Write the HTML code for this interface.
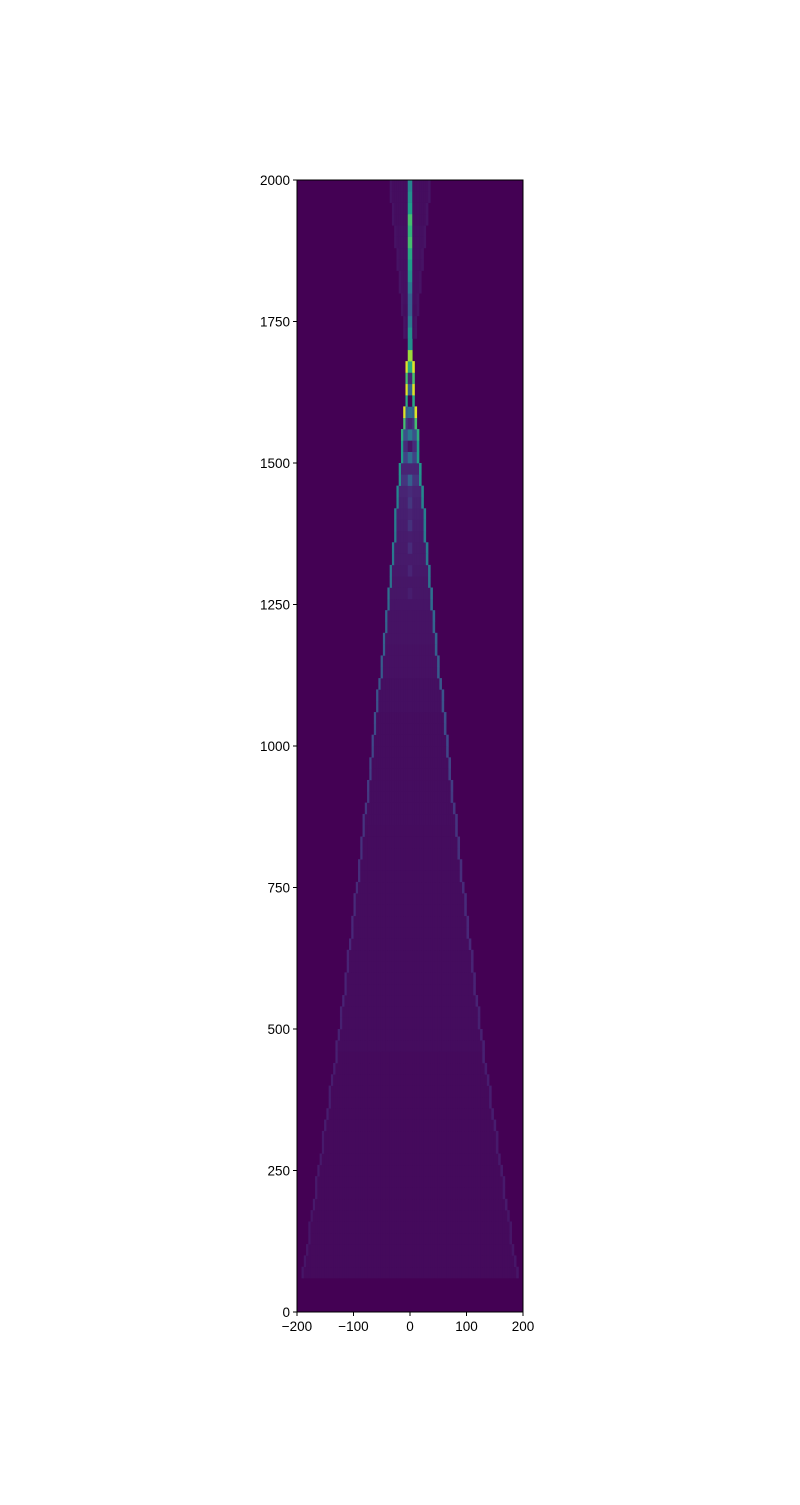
<!DOCTYPE html>
<html><head><meta charset="utf-8"><style>
body{margin:0;background:#fff;}
svg text{font-family:"Liberation Sans","DejaVu Sans",sans-serif;font-size:13.5px;fill:#000;}
</style></head><body>
<svg id="chart" width="800" height="1500" xmlns="http://www.w3.org/2000/svg">
<rect x="0" y="0" width="800" height="1500" fill="#fff"/>
<g id="cells"></g>
<g id="axes"></g>
</svg>
<script>
// rows start at y = 60 + 20*i
const rowStart = 60, rowStep = 20, colStep = 4;
const halfWidth = [190,187,184,181,178,175,172,169,166,163,
160,157,154,151,148,145,142,139,136,133,
130,127,124,122,119,117,114,112,110,107,
105,102,100,98,95,93,91,89,86,84,
82,80,77,75,73,71,68,66,64,62,
60,58,55,53,51,49,47,44,42,40,
38,37,35,33,31,29,28,26,24,22,
20,19,17,15,14,12,10,9,8,7,
6,5,4,10,12,14,16,18,20,22,
24,26,28,30,32,34,36];
const edgeVal = [0.06,0.06,0.06,0.06,0.06,0.06,0.07,0.07,0.07,0.07,
0.07,0.07,0.07,0.08,0.08,0.08,0.08,0.08,0.08,0.09,
0.09,0.09,0.09,0.09,0.1,0.1,0.1,0.1,0.1,0.11,
0.11,0.11,0.12,0.12,0.12,0.13,0.13,0.14,0.14,0.15,
0.15,0.16,0.17,0.18,0.19,0.2,0.21,0.22,0.23,0.24,
0.25,0.26,0.27,0.28,0.29,0.3,0.31,0.32,0.33,0.35,
0.37,0.38,0.39,0.4,0.41,0.42,0.43,0.44,0.45,0.47,
0.5,0.52,0.55,0.55,0.62,0.7,0.95,0.6,0.95,0.7,
0.95,1.0,0.85,0.05,0.05,0.05,0.05,0.05,0.05,0.05,
0.05,0.05,0.05,0.05,0.05,0.05,0.05];
const innerVal = [0.025,0.025,0.025,0.025,0.025,0.025,0.025,0.025,0.025,0.025,
0.025,0.025,0.025,0.025,0.025,0.025,0.025,0.025,0.025,0.025,
0.03,0.03,0.03,0.03,0.03,0.03,0.03,0.03,0.03,0.03,
0.03,0.03,0.03,0.03,0.03,0.03,0.03,0.03,0.03,0.03,
0.035,0.035,0.035,0.035,0.035,0.035,0.035,0.035,0.035,0.035,
0.04,0.04,0.04,0.045,0.045,0.045,0.05,0.05,0.05,0.055,
0.06,0.06,0.065,0.07,0.07,0.075,0.08,0.085,0.09,0.1,
0.15,0.1,0.2,0.12,0.25,0.15,0.3,0.2,0.35,0.25,
0.4,0.45,0.4,0.035,0.035,0.035,0.04,0.04,0.04,0.04,
0.04,0.04,0.04,0.035,0.035,0.035,0.035];
const centerVal = [0.025,0.025,0.025,0.025,0.025,0.025,0.025,0.025,0.025,0.025,
0.025,0.025,0.025,0.025,0.025,0.025,0.025,0.025,0.025,0.025,
0.03,0.03,0.03,0.03,0.03,0.03,0.03,0.03,0.03,0.03,
0.03,0.03,0.03,0.03,0.03,0.03,0.03,0.03,0.03,0.03,
0.035,0.035,0.035,0.035,0.035,0.035,0.035,0.035,0.035,0.035,
0.04,0.04,0.04,0.045,0.045,0.045,0.05,0.05,0.05,0.055,
0.08,0.06,0.1,0.07,0.12,0.08,0.14,0.1,0.16,0.12,
0.3,0.1,0.35,0.05,0.4,0.1,0.35,0.0,0.3,0.1,
0.6,0.85,0.5,0.5,0.4,0.3,0.3,0.4,0.5,0.55,
0.6,0.7,0.65,0.7,0.55,0.5,0.45];
const xTicks = [-200,-100,0,100,200];
const yTicks = [0,250,500,750,1000,1250,1500,1750,2000];

const L=297,R=523,T=180,B=1312;
const xs = v => L + (v+200)/400*(R-L);
const ys = v => B - v/2000*(B-T);
const stops=[[68,1,84],[72,40,120],[62,74,137],[49,104,142],[38,130,142],[31,158,137],[53,183,121],[110,206,88],[181,222,43],[253,231,37]];
function viridis(t){t=Math.max(0,Math.min(1,t));const p=t*(stops.length-1),i=Math.min(stops.length-2,Math.floor(p)),f=p-i;
const c=stops[i].map((a,k)=>Math.round(a+(stops[i+1][k]-a)*f));return `rgb(${c[0]},${c[1]},${c[2]})`;}
const NS="http://www.w3.org/2000/svg";
const cells=document.getElementById('cells');
const bg=document.createElementNS(NS,'rect');
bg.setAttribute('x',L);bg.setAttribute('y',T);bg.setAttribute('width',R-L);bg.setAttribute('height',B-T);bg.setAttribute('fill',viridis(0));


cells.appendChild(bg);
for(let i=0;i<halfWidth.length;i++){
  const y0=rowStart+i*rowStep, y1=y0+rowStep, hw=halfWidth[i];
  for(let c=-200;c<200;c+=colStep){
    const d=Math.abs(c+colStep/2);
    let v=null;
    if(d<3) v=centerVal[i];
    else if(d<=hw && d>hw-colStep) v=edgeVal[i];
    else if(d<hw) v=innerVal[i];
    if(v===null) continue;
    const r=document.createElementNS(NS,'rect');
    r.setAttribute('x',xs(c));r.setAttribute('y',ys(y1));
    r.setAttribute('width',xs(c+colStep)-xs(c)+0.3);r.setAttribute('height',ys(y0)-ys(y1)+0.3);
    r.setAttribute('fill',viridis(v));
    
    
    cells.appendChild(r);
  }
}
const ax=document.getElementById('axes');
function el(tag,attrs,txt){const e=document.createElementNS(NS,tag);for(const k in attrs)e.setAttribute(k,attrs[k]);if(txt!==undefined)e.textContent=txt;ax.appendChild(e);return e;}
const frame=el('rect',{x:L,y:T,width:R-L,height:B-T,fill:'none',stroke:'#000','stroke-width':1});


xTicks.forEach(v=>{
  const t=el('line',{x1:xs(v),x2:xs(v),y1:B,y2:B+4,stroke:'#000'});
  
  
  const lb=el('text',{x:xs(v),y:B+19,'text-anchor':'middle'},v<0?'\u2212'+Math.abs(v):String(v));
  
  
});
yTicks.forEach(v=>{
  const t=el('line',{x1:L-4,x2:L,y1:ys(v),y2:ys(v),stroke:'#000'});
  
  
  const lb=el('text',{x:L-7,y:ys(v)+5,'text-anchor':'end'},String(v));
  
  
});
</script>
</body></html>
